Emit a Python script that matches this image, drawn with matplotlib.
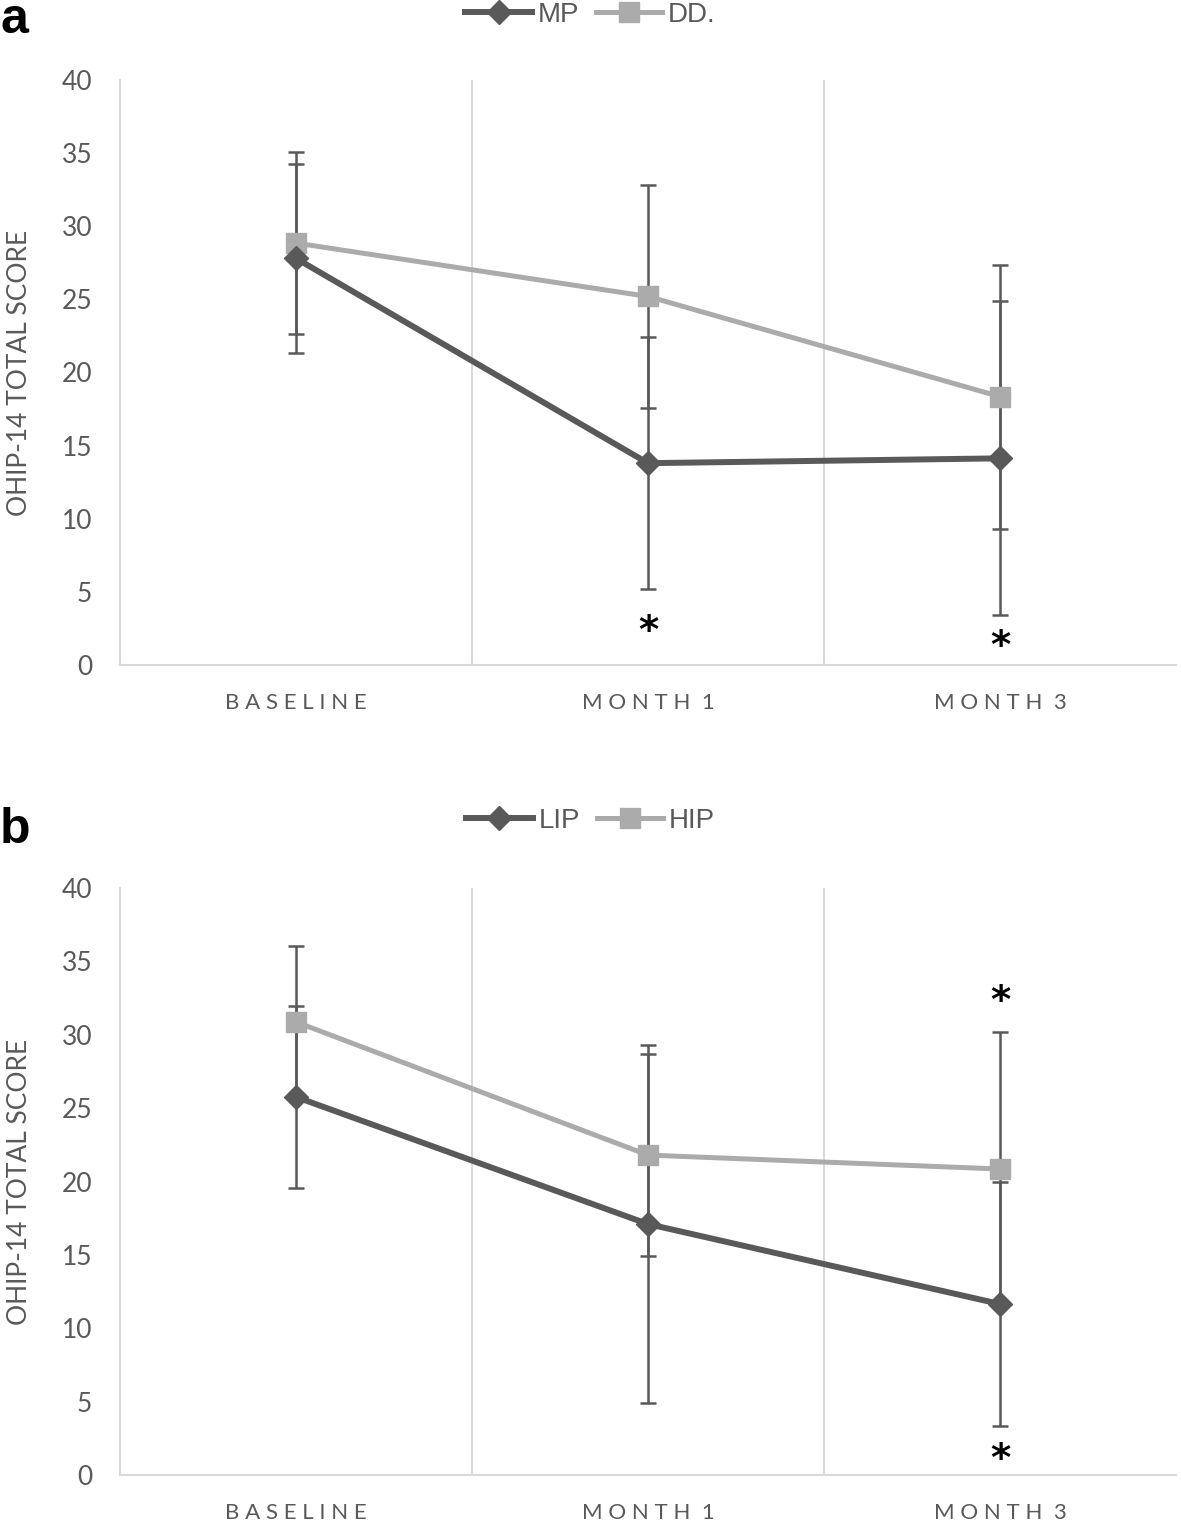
import matplotlib
matplotlib.use("Agg")
import matplotlib.pyplot as plt
from matplotlib.lines import Line2D

plt.rcParams['font.family'] = ['Lato', 'DejaVu Sans']
LEGFONT = ['Liberation Sans', 'DejaVu Sans']

categories = ["BASELINE", "MONTH 1", "MONTH 3"]

# Panel a
mp = [27.8, 13.8, 14.13]
mp_err = [6.45, 8.6, 10.73]
dd = [28.85, 25.2, 18.35]
dd_err = [6.25, 7.6, 9.03]
stars_a_x = [1, 2]
stars_a_y = [2.7, 1.7]

# Panel b
lip = [25.76, 17.1, 11.65]
lip_err = [6.2, 12.2, 8.3]
hip = [30.87, 21.8, 20.85]
hip_err = [5.2, 6.9, 9.35]
stars_b_x = [2, 2]
stars_b_y = [32.7, 1.5]

yticks = [0, 5, 10, 15, 20, 25, 30, 35, 40]

DARK = '#595959'
LIGHT = '#ababab'
GRID = '#d9d9d9'
TXT = '#595959'

W, H = 1181, 1522
fig = plt.figure(figsize=(W / 100, H / 100), dpi=100)

def spaced(s):
    return ' '.join(list(s)).replace('   ', '  ')

def panel(rect, s1, e1, n1, s2, e2, n2, sx, sy, letter, letter_y, leg_y):
    ax = fig.add_axes(rect)
    x = list(range(len(categories)))
    ax.set_xlim(-0.5, 2.5)
    ax.set_ylim(0, 40)
    for g in [0.5, 1.5]:
        ax.axvline(g, color=GRID, lw=1.5, zorder=0)
    for sp in ['top', 'right']:
        ax.spines[sp].set_visible(False)
    for sp in ['left', 'bottom']:
        ax.spines[sp].set_color(GRID)
        ax.spines[sp].set_linewidth(1.5)
    ax.errorbar(x, s2, yerr=e2, fmt='none', ecolor=DARK, elinewidth=1.8,
                capsize=6, capthick=1.8, zorder=2)
    ax.errorbar(x, s1, yerr=e1, fmt='none', ecolor=DARK, elinewidth=1.8,
                capsize=6, capthick=1.8, zorder=2)
    ax.plot(x, s2, color=LIGHT, lw=3.6, marker='s', markersize=15,
            markeredgecolor=LIGHT, zorder=3, solid_capstyle='round')
    ax.plot(x, s1, color=DARK, lw=4.3, marker='D', markersize=12,
            markeredgecolor=DARK, zorder=4, solid_capstyle='round')
    for a, b in zip(sx, sy):
        ax.text(a, b - 0.45, '*', ha='center', va='center', fontsize=28,
                fontweight='bold', color='black', family=['DejaVu Sans'])
    ax.set_yticks(yticks)
    ax.set_yticklabels([str(v) for v in yticks], color=TXT, fontsize=19)
    ax.set_xticks(x)
    ax.set_xticklabels([spaced(c) for c in categories], color=TXT, fontsize=16)
    ax.tick_params(axis='both', length=0)
    ax.tick_params(axis='y', pad=20)
    ax.tick_params(axis='x', pad=20)
    ax.set_ylabel('OHIP-14 TOTAL SCORE', color=TXT, fontsize=19)
    ax.yaxis.set_label_coords(-0.083, 0.5)
    fig.text(0.0, letter_y, letter, fontsize=36, fontweight='bold',
             family=LEGFONT, ha='left', va='center')
    handles = [Line2D([], [], color=DARK, lw=4.3, marker='D', markersize=12),
               Line2D([], [], color=LIGHT, lw=3.6, marker='s', markersize=15)]
    fig.legend(handles, [n1, n2], loc='center', bbox_to_anchor=(0.5, leg_y),
               ncol=2, frameon=False, handlelength=2.4, borderpad=0.1,
               handletextpad=0.2, columnspacing=0.6, labelcolor=TXT,
               prop={'family': LEGFONT, 'size': 20})
    return ax

def rect(top_px, bottom_px, left_px=120, right_px=1176):
    return [left_px / W, 1 - bottom_px / H, (right_px - left_px) / W,
            (bottom_px - top_px) / H]

panel(rect(80, 665), mp, mp_err, 'MP', dd, dd_err, 'DD.',
      stars_a_x, stars_a_y, 'a', 1 - 20 / H, 1 - 15 / H)
panel(rect(888, 1475), lip, lip_err, 'LIP', hip, hip_err, 'HIP',
      stars_b_x, stars_b_y, 'b', 1 - 830 / H, 1 - 821 / H)

fig.savefig('out.png', dpi=100)
